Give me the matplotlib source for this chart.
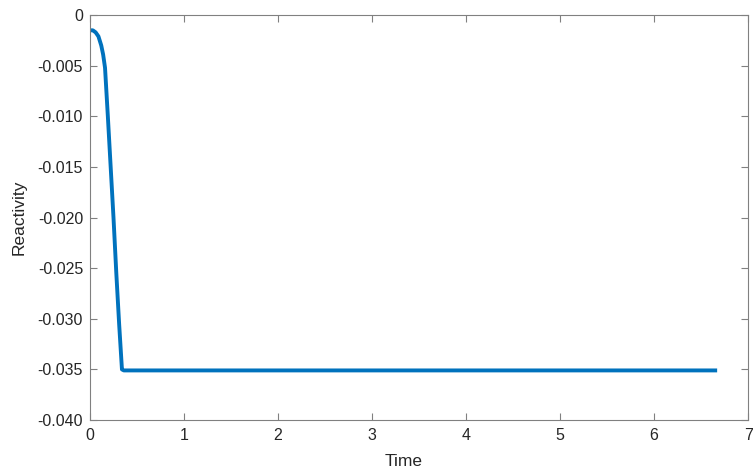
import matplotlib
matplotlib.use("Agg")
import matplotlib.pyplot as plt

plt.rcParams['font.family'] = ['Liberation Sans', 'DejaVu Sans']

# readings
time = [0.0, 0.03, 0.06, 0.09, 0.12, 0.14, 0.16, 0.19, 0.22, 0.25, 0.28, 0.31, 0.34, 0.36, 1.0, 3.0, 6.65]
reactivity = [-0.0015, -0.0015, -0.0017, -0.0021, -0.0030, -0.0039, -0.0052, -0.0100, -0.0150, -0.0200, -0.0255, -0.0305, -0.0350, -0.0351, -0.0351, -0.0351, -0.0351]

yticks = [0, -0.005, -0.010, -0.015, -0.020, -0.025, -0.030, -0.035, -0.040]
ylabels = ["0", "-0.005", "-0.010", "-0.015", "-0.020", "-0.025", "-0.030", "-0.035", "-0.040"]

fig = plt.figure(figsize=(7.53, 4.73), dpi=100)
ax = fig.add_axes([0.1195, 0.112, 0.874, 0.856])

ax.plot(time, reactivity, color="#0072BD", linewidth=2.8)

ax.set_xlim(0, 7)
ax.set_ylim(-0.04, 0)
ax.set_xticks(range(8))
ax.set_yticks(yticks)
ax.set_yticklabels(ylabels)
ax.tick_params(direction="in", top=True, right=True, labelsize=11.5, length=5,
               color="#808080", labelcolor="#262626")
ax.tick_params(axis="x", pad=6)
ax.tick_params(axis="y", pad=5)
for s in ax.spines.values():
    s.set_color("#808080")
ax.set_xlabel("Time", fontsize=12.5, color="#262626")
ax.set_ylabel("Reactivity", fontsize=12.5, color="#262626")
ax.xaxis.set_label_coords(0.476, -0.083)
ax.yaxis.set_label_coords(-0.097, 0.5)

fig.savefig("out.png", dpi=100)
